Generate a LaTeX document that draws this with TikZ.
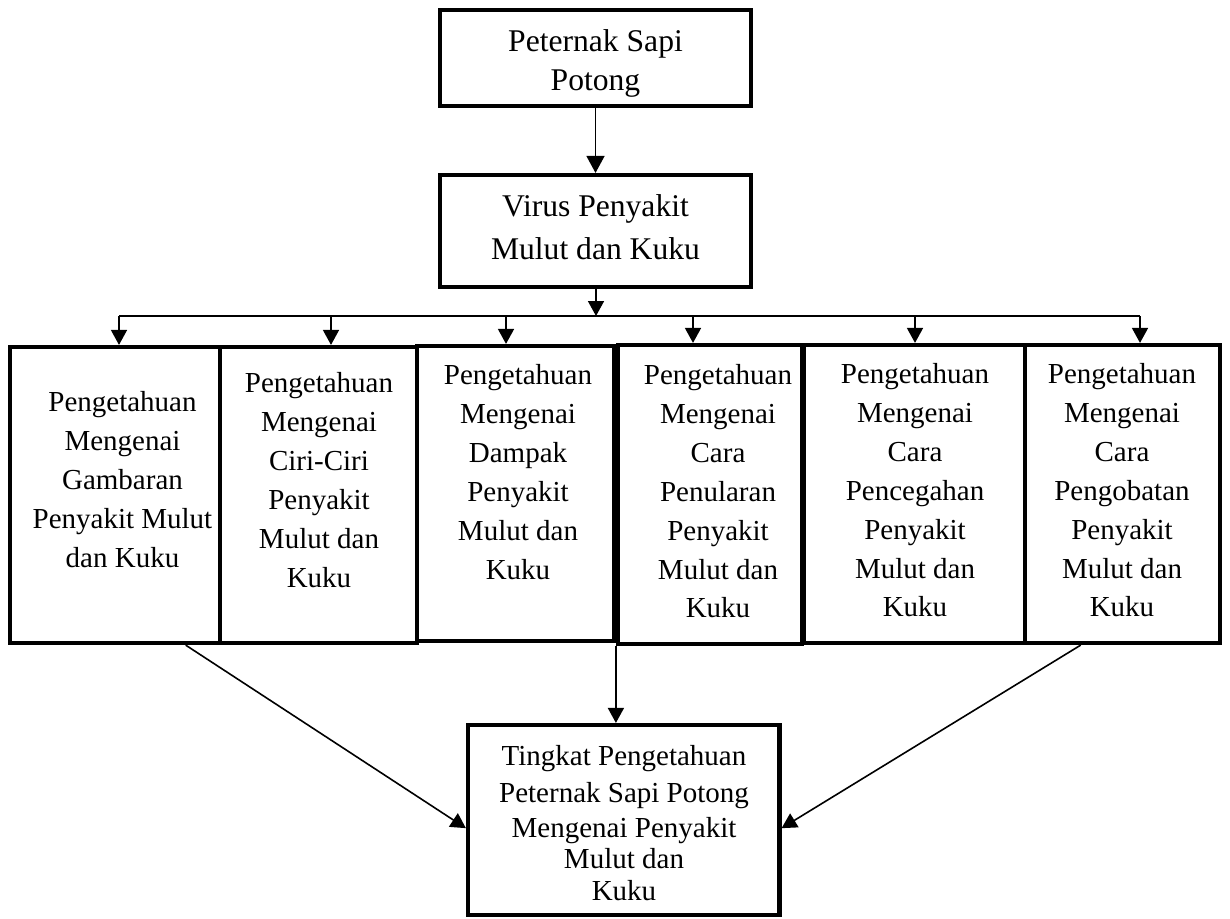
\documentclass[tikz,border=0pt]{standalone}
\usepackage{fontspec}
\setmainfont{Liberation Serif}
\usetikzlibrary{arrows.meta,fit,calc}
\begin{document}
\begin{tikzpicture}[x=0.5pt,y=-0.5pt,
  box/.style={draw, line width=2.1pt, inner sep=0pt},
  txt/.style={anchor=north, align=center, inner sep=0pt, font=\fontsize{14.5}{19.45}\selectfont},
  bigtxt/.style={anchor=north, align=center, inner sep=0pt},
  arr/.style={line width=0.8pt, -{Triangle[width=8pt,length=7.5pt]}},
  bigarr/.style={line width=0.8pt, -{Triangle[width=9pt,length=8.5pt]}},
  ln/.style={line width=0.8pt}]
\useasboundingbox (0,0) rectangle (1230,918);

% top boxes
\node[box, fit={(440,10) (751,106)}] (t1) {};
\node[bigtxt, font=\fontsize{15.8}{19.35}\selectfont] (t1x) at (595.5,29.5) {Peternak Sapi\\Potong};
\node[box, fit={(440,175) (751,287)}] (t2) {};
\node[bigtxt, font=\fontsize{15.8}{21.5}\selectfont] (t2x) at (595.5,194) {Virus Penyakit\\Mulut dan Kuku};

% row boxes
\node[box, fit={(10,347) (220,643)}] (b1) {};
\node[box, fit={(220,347) (417,643)}] (b2) {};
\node[box, fit={(417,346) (614,641)}] (b3) {};
\node[box, fit={(618,345) (802,644)}] (b4) {};
\node[box, fit={(804,345) (1025,643)}] (b5) {};
\node[box, fit={(1025,345) (1220,643)}] (b6) {};

\node[txt] (b1x) at (122.5,391) {Pengetahuan\\Mengenai\\Gambaran\\Penyakit Mulut\\dan Kuku};
\node[txt] (b2x) at (319,372) {Pengetahuan\\Mengenai\\Ciri-Ciri\\Penyakit\\Mulut dan\\Kuku};
\node[txt] (b3x) at (518,364) {Pengetahuan\\Mengenai\\Dampak\\Penyakit\\Mulut dan\\Kuku};
\node[txt] (b4x) at (718,364) {Pengetahuan\\Mengenai\\Cara\\Penularan\\Penyakit\\Mulut dan\\Kuku};
\node[txt] (b5x) at (915,363) {Pengetahuan\\Mengenai\\Cara\\Pencegahan\\Penyakit\\Mulut dan\\Kuku};
\node[txt] (b6x) at (1122,363) {Pengetahuan\\Mengenai\\Cara\\Pengobatan\\Penyakit\\Mulut dan\\Kuku};

% bottom box
\node[box, fit={(468,725) (779.5,915)}] (bot) {};
\node[txt, font=\fontsize{14.5}{15.5}\selectfont] (botx) at (624,744.5) {Tingkat Pengetahuan\\[3pt]Peternak Sapi Potong\\[2.2pt]Mengenai Penyakit\\Mulut dan\\[0.5pt]Kuku};

% bus
\coordinate (hub) at (596,316);
\coordinate (c1) at (119,316);
\coordinate (c2) at (331,316);
\coordinate (c3) at (506,316);
\coordinate (c4) at (693,316);
\coordinate (c5) at (915,316);
\coordinate (c6) at (1140,316);

\draw[bigarr] (t1.south) -- (t2.north);
\draw[arr] (t2.south -| hub) -- (hub);
\draw[ln] (c1) -- (c6);
\draw[arr] (c1) -- (c1 |- b1.north);
\draw[arr] (c2) -- (c2 |- b2.north);
\draw[arr] (c3) -- (c3 |- b3.north);
\draw[arr] (c4) -- (c4 |- b4.north);
\draw[arr] (c5) -- (c5 |- b5.north);
\draw[arr] (c6) -- (c6 |- b6.north);

% to bottom box
\draw[arr] ($(b1.south west)!0.83!(b1.south east)$) -- ($(bot.north west)!0.542!(bot.south west)$);
\draw[arr] (b4.south west) -- (b4.south west |- bot.north);
\draw[arr] ($(b6.south west)!0.29!(b6.south east)$) -- ($(bot.north east)!0.542!(bot.south east)$);
\end{tikzpicture}
\end{document}
